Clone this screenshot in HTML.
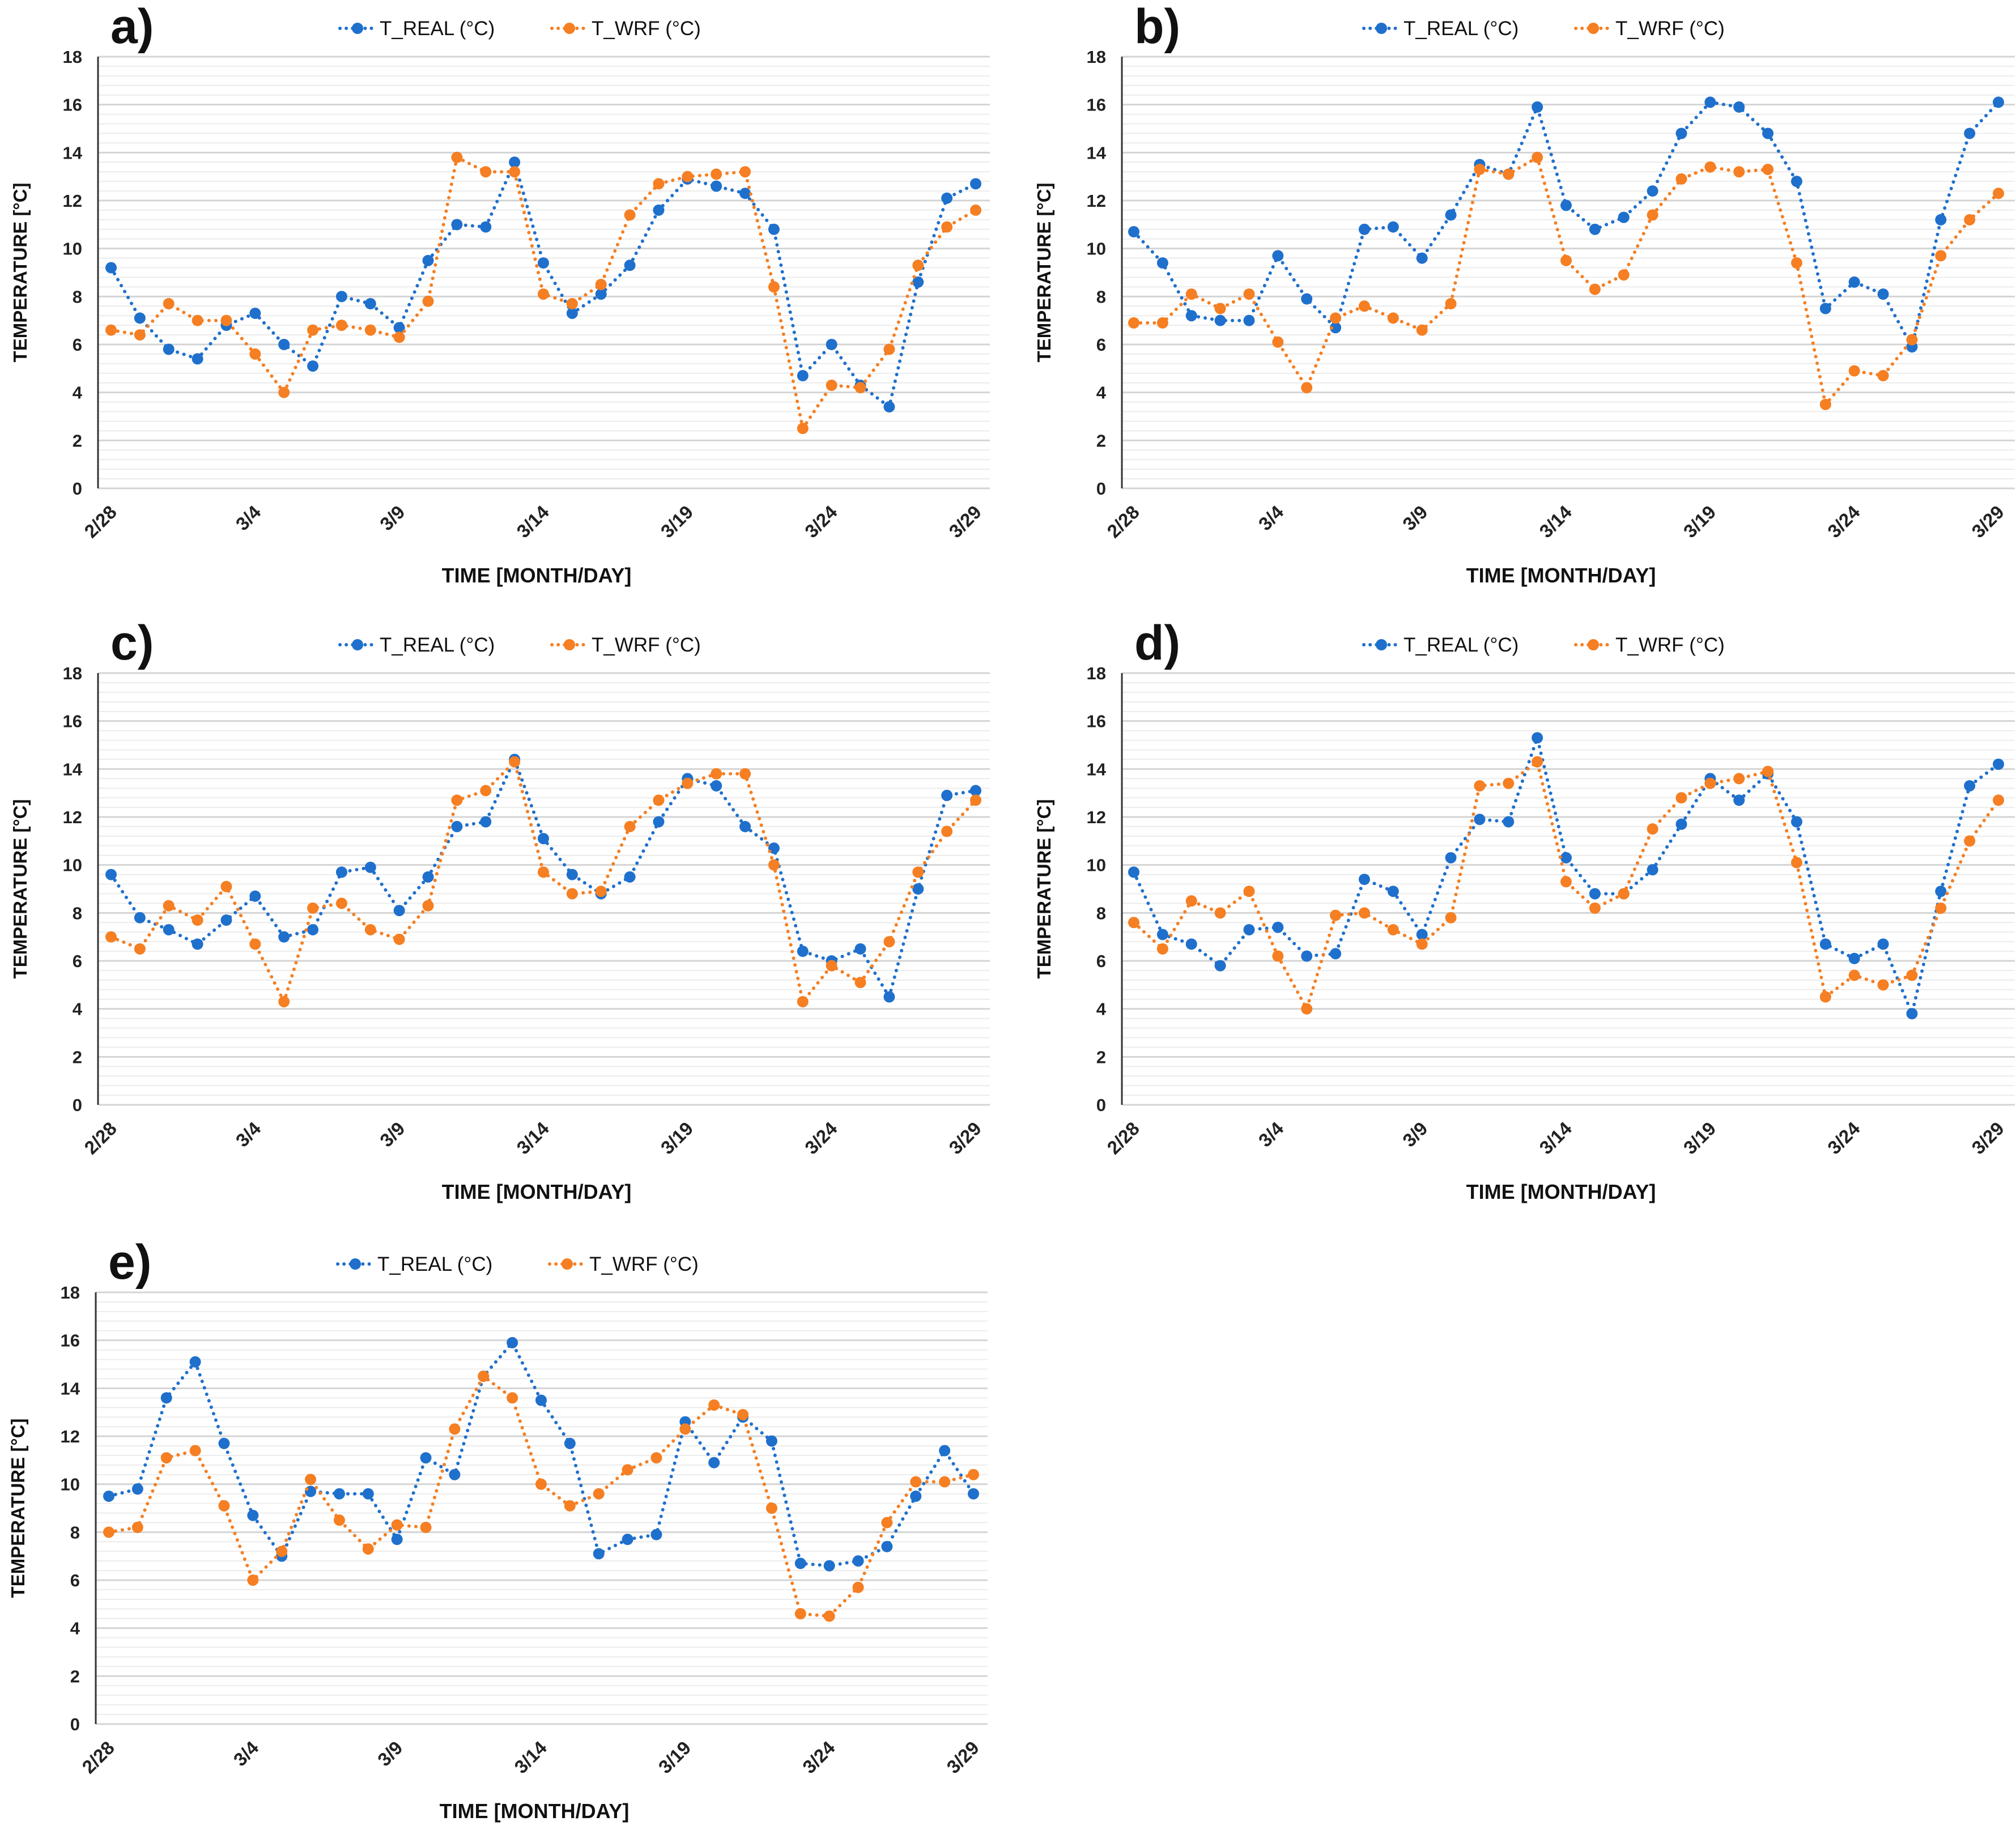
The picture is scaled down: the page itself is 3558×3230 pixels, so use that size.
<!DOCTYPE html>
<html><head><meta charset="utf-8">
<style>
html,body{margin:0;padding:0;background:#fff;}
svg{display:block;}
text{font-family:"Liberation Sans Narrow","Liberation Sans",sans-serif;}
</style></head>
<body>
<svg id="fig" width="3558" height="3230" viewBox="0 0 3558 3230" xmlns="http://www.w3.org/2000/svg"></svg>
<script>
const dates = ["2/28","2/29","3/1","3/2","3/3","3/4","3/5","3/6","3/7","3/8","3/9","3/10","3/11","3/12","3/13","3/14","3/15","3/16","3/17","3/18","3/19","3/20","3/21","3/22","3/23","3/24","3/25","3/26","3/27","3/28","3/29"];
const yTicks = [0,2,4,6,8,10,12,14,16,18];
const panelLabels = ["a)","b)","c)","d)","e)"];
const realA = [9.2,7.1,5.8,5.4,6.8,7.3,6.0,5.1,8.0,7.7,6.7,9.5,11.0,10.9,13.6,9.4,7.3,8.1,9.3,11.6,12.9,12.6,12.3,10.8,4.7,6.0,4.3,3.4,8.6,12.1,12.7];
const wrfA  = [6.6,6.4,7.7,7.0,7.0,5.6,4.0,6.6,6.8,6.6,6.3,7.8,13.8,13.2,13.2,8.1,7.7,8.5,11.4,12.7,13.0,13.1,13.2,8.4,2.5,4.3,4.2,5.8,9.3,10.9,11.6];
const realB = [10.7,9.4,7.2,7.0,7.0,9.7,7.9,6.7,10.8,10.9,9.6,11.4,13.5,13.1,15.9,11.8,10.8,11.3,12.4,14.8,16.1,15.9,14.8,12.8,7.5,8.6,8.1,5.9,11.2,14.8,16.1];
const wrfB  = [6.9,6.9,8.1,7.5,8.1,6.1,4.2,7.1,7.6,7.1,6.6,7.7,13.3,13.1,13.8,9.5,8.3,8.9,11.4,12.9,13.4,13.2,13.3,9.4,3.5,4.9,4.7,6.2,9.7,11.2,12.3];
const realC = [9.6,7.8,7.3,6.7,7.7,8.7,7.0,7.3,9.7,9.9,8.1,9.5,11.6,11.8,14.4,11.1,9.6,8.8,9.5,11.8,13.6,13.3,11.6,10.7,6.4,6.0,6.5,4.5,9.0,12.9,13.1];
const wrfC  = [7.0,6.5,8.3,7.7,9.1,6.7,4.3,8.2,8.4,7.3,6.9,8.3,12.7,13.1,14.3,9.7,8.8,8.9,11.6,12.7,13.4,13.8,13.8,10.0,4.3,5.8,5.1,6.8,9.7,11.4,12.7];
const realD = [9.7,7.1,6.7,5.8,7.3,7.4,6.2,6.3,9.4,8.9,7.1,10.3,11.9,11.8,15.3,10.3,8.8,8.8,9.8,11.7,13.6,12.7,13.8,11.8,6.7,6.1,6.7,3.8,8.9,13.3,14.2];
const wrfD  = [7.6,6.5,8.5,8.0,8.9,6.2,4.0,7.9,8.0,7.3,6.7,7.8,13.3,13.4,14.3,9.3,8.2,8.8,11.5,12.8,13.4,13.6,13.9,10.1,4.5,5.4,5.0,5.4,8.2,11.0,12.7];
const realE = [9.5,9.8,13.6,15.1,11.7,8.7,7.0,9.7,9.6,9.6,7.7,11.1,10.4,14.5,15.9,13.5,11.7,7.1,7.7,7.9,12.6,10.9,12.8,11.8,6.7,6.6,6.8,7.4,9.5,11.4,9.6];
const wrfE  = [8.0,8.2,11.1,11.4,9.1,6.0,7.2,10.2,8.5,7.3,8.3,8.2,12.3,14.5,13.6,10.0,9.1,9.6,10.6,11.1,12.3,13.3,12.9,9.0,4.6,4.5,5.7,8.4,10.1,10.1,10.4];

const NS="http://www.w3.org/2000/svg";
const svg=document.getElementById('fig');
function mk(tag,attrs,parent){const e=document.createElementNS(NS,tag);for(const k in attrs)e.setAttribute(k,attrs[k]);(parent||svg).appendChild(e);return e;}
const BLUE="#1f70cc", ORANGE="#f57f22";

const layouts=[
 {L:173,R:1747,T:100,B:862,p0:196,p1:1722},
 {L:1980,R:3556,T:100,B:862,p0:2001,p1:3527},
 {L:173,R:1747,T:1188,B:1950,p0:196,p1:1722},
 {L:1980,R:3556,T:1188,B:1950,p0:2001,p1:3527},
 {L:169,R:1743,T:2281,B:3043,p0:192,p1:1718}
];
const realSeries=[realA,realB,realC,realD,realE];
const wrfSeries=[wrfA,wrfB,wrfC,wrfD,wrfE];

layouts.forEach((lay,pi)=>{
  const g=mk('g',{});
  
  
  const yS=v=>lay.B-(v/18)*(lay.B-lay.T);
  const xS=i=>lay.p0+i*(lay.p1-lay.p0)/(dates.length-1);
  for(let v=0;v<=18.001;v+=0.4){
    const isMajor=Math.abs(v/2-Math.round(v/2))<0.01;
    if(isMajor) continue;
    const ln=mk('line',{x1:lay.L,x2:lay.R,y1:yS(v),y2:yS(v),stroke:'#ececec','stroke-width':2},g);
    
    
  }
  yTicks.forEach(t=>{
    const ln=mk('line',{x1:lay.L,x2:lay.R,y1:yS(t),y2:yS(t),stroke:'#d4d4d4','stroke-width':3},g);
    
    
    const tx=mk('text',{x:lay.L-28,y:yS(t)+11,'text-anchor':'end','font-size':31,'font-weight':'bold',fill:'#222'},g);
    tx.textContent=t;
    
    
  });
  const ax=mk('line',{x1:lay.L,x2:lay.L,y1:lay.T,y2:lay.B,stroke:'#333','stroke-width':3},g);
  
  
  dates.forEach((d,i)=>{
    if(i%5!==0) return;
    const x=xS(i)+12, y=lay.B+44;
    const tx=mk('text',{x:x,y:y,'text-anchor':'end','font-size':33,'font-weight':'bold',fill:'#222',transform:`rotate(-45 ${x} ${y})`},g);
    tx.textContent=d;
    
    
  });
  const xt=mk('text',{x:(lay.L+lay.R)/2-13,y:lay.B+166,'text-anchor':'middle','font-size':36,'font-weight':'bold',fill:'#111'},g);
  xt.textContent='TIME [MONTH/DAY]';
  
  
  const yx=lay.L-126, yy=(lay.T+lay.B)/2;
  const yt=mk('text',{x:yx,y:yy,'text-anchor':'middle','font-size':33,'font-weight':'bold',fill:'#111',transform:`rotate(-90 ${yx} ${yy})`,style:'font-family:"Liberation Sans",sans-serif'},g);
  yt.textContent='TEMPERATURE [°C]';
  
  
  const pl=mk('text',{x:lay.L+22,y:lay.T-24,'font-size':86,'font-weight':'bold',fill:'#111',style:'font-family:"Liberation Sans",sans-serif'},g);
  pl.textContent=panelLabels[pi];
  
  
  const lx=lay.L+427, ly=lay.T-50;
  [[BLUE,'T_REAL (°C)',0],[ORANGE,'T_WRF (°C)',374]].forEach(([c,lab,off])=>{
    const lg=mk('g',{},g);
    
    
    mk('line',{x1:lx+off,x2:lx+off+62,y1:ly,y2:ly,stroke:c,'stroke-width':6,'stroke-dasharray':'0.1 11','stroke-linecap':'round'},lg);
    mk('circle',{cx:lx+off+31,cy:ly,r:10,fill:c},lg);
    const t=mk('text',{x:lx+off+70,y:ly+12,'font-size':35,fill:'#111'},lg);
    t.textContent=lab;
  });
  [[realSeries[pi],BLUE,'t-real'],[wrfSeries[pi],ORANGE,'t-wrf']].forEach(([vals,c,nm])=>{
    const pts=vals.map((v,i)=>xS(i).toFixed(1)+','+yS(v).toFixed(1)).join(' ');
    const pl2=mk('polyline',{points:pts,fill:'none',stroke:c,'stroke-width':6,'stroke-dasharray':'0.1 12','stroke-linecap':'round'},g);
    
    
    vals.forEach((v,i)=>{
      const ci=mk('circle',{cx:xS(i),cy:yS(v),r:10,fill:c},g);
      
      
    });
  });
});
</script>
</body></html>
